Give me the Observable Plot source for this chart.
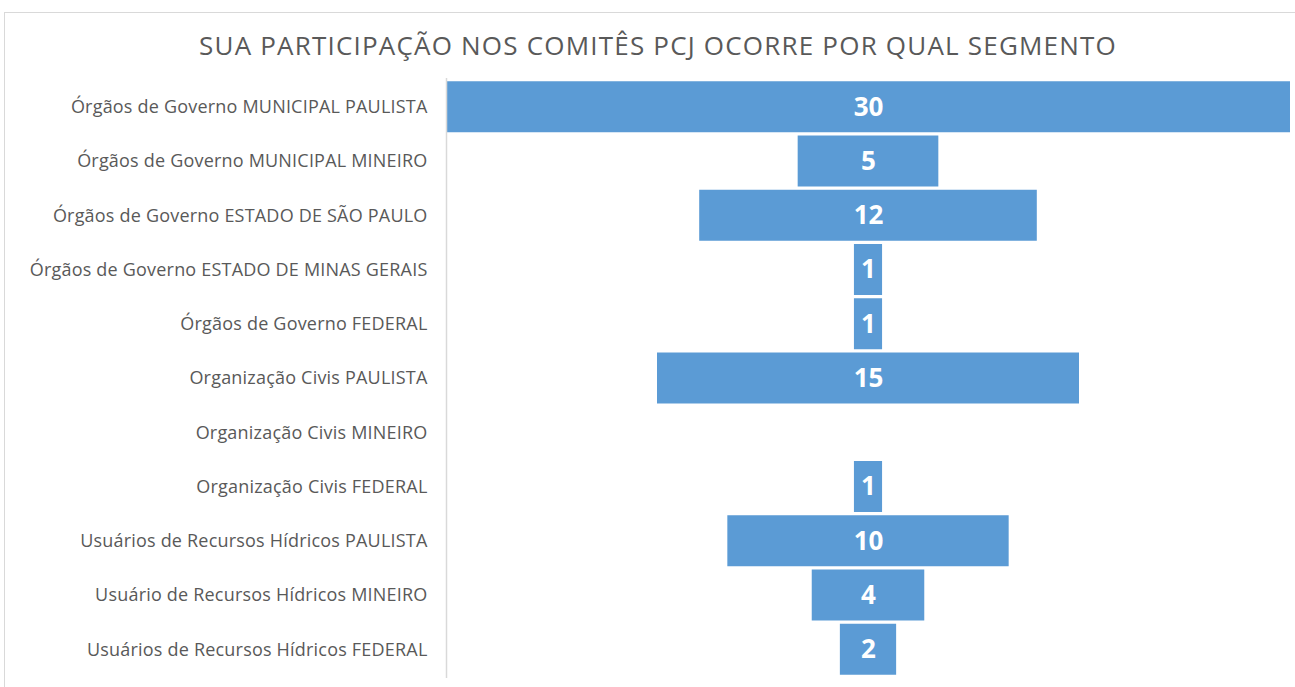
<!DOCTYPE html>
<html>
<head>
<meta charset="utf-8">
<script src="https://cdn.jsdelivr.net/npm/d3@7"></script>
<script src="https://cdn.jsdelivr.net/npm/@observablehq/plot@0.6"></script>
<style>
  html, body { margin: 0; padding: 0; background: #fff; overflow: hidden; }
  #wrap { position: relative; width: 1295px; height: 687px; }
  #frame { position: absolute; left: 4px; top: 12px; width: 1320px; height: 720px; border-top: 1px solid #d9d9d9; border-left: 1px solid #d9d9d9; box-sizing: border-box; }
  #title { position: absolute; left: 0; width: 1316px; top: 27px; text-align: center; font-family: "Open Sans", sans-serif; font-size: 26px; line-height: 36px; color: #595959; letter-spacing: 1.2px; }
  #chart { position: absolute; left: 0; top: 0; }
  #chart g[aria-label="y-axis tick label"] text { letter-spacing: 0.2px; }
</style>
</head>
<body>
<div id="wrap">
  <div id="frame"></div>
  <div id="title">SUA PARTICIPAÇÃO NOS COMITÊS PCJ OCORRE POR QUAL SEGMENTO</div>
  <div id="chart"></div>
</div>
<script>
const categories = [
  "Órgãos de Governo MUNICIPAL PAULISTA",
  "Órgãos de Governo MUNICIPAL MINEIRO",
  "Órgãos de Governo ESTADO DE SÃO PAULO",
  "Órgãos de Governo ESTADO DE MINAS GERAIS",
  "Órgãos de Governo FEDERAL",
  "Organização Civis PAULISTA",
  "Organização Civis MINEIRO",
  "Organização Civis FEDERAL",
  "Usuários de Recursos Hídricos PAULISTA",
  "Usuário de Recursos Hídricos MINEIRO",
  "Usuários de Recursos Hídricos FEDERAL"
];
const values = [30, 5, 12, 1, 1, 15, 0, 1, 10, 4, 2];

const data = categories.map((c, i) => ({category: c, value: values[i]}));
const shown = data.filter(d => d.value > 0);

const chart = Plot.plot({
  width: 1295,
  height: 687,
  marginLeft: 446,
  marginRight: 5,
  marginTop: 78,
  marginBottom: 9,
  style: {fontFamily: "'Open Sans', sans-serif", fontSize: "18px", color: "#595959", background: "transparent"},
  x: {domain: [-15, 15], axis: null},
  y: {domain: categories, range: [78, 678], padding: 0.06, round: false, label: null},
  marks: [
    Plot.axisY({tickSize: 0, tickPadding: 19, fontSize: 18, fill: "#595959", label: null}),
    Plot.barX(shown, {x1: d => -d.value / 2, x2: d => d.value / 2, y: "category", fill: "#5b9bd5"}),
    Plot.ruleX([-15], {stroke: "#d9d9d9", strokeWidth: 1.5}),
    Plot.text(shown, {x: 0, y: "category", text: d => String(d.value), fill: "white", fontWeight: "bold", fontSize: 26})
  ]
});
document.getElementById("chart").appendChild(chart);
</script>
</body>
</html>
